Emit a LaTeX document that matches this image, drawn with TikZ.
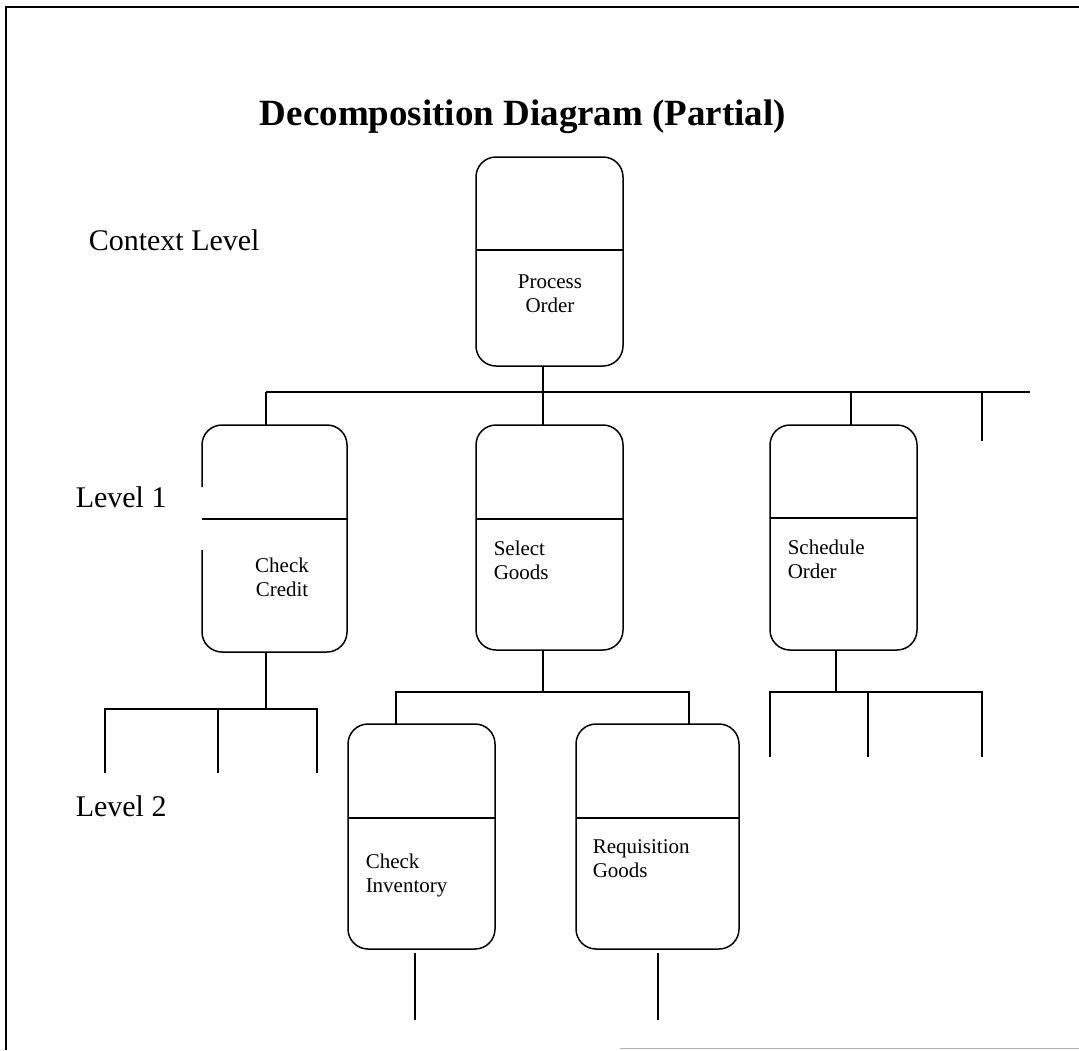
\documentclass[tikz,border=0pt]{standalone}
\usepackage{fontspec}
\setmainfont{Liberation Serif}
\begin{document}
\begin{tikzpicture}[x=1pt,y=-1pt,
  line width=1.5pt,
  procbox/.style={draw, rounded corners=20pt, inner sep=0pt, outer sep=0pt},
  boxtext/.style={inner sep=0pt, font=\fontsize{21}{24}\selectfont},
  leveltext/.style={inner sep=0pt, anchor=west, font=\fontsize{30}{33}\selectfont},
  wire/.style={draw, line width=1.5pt}]
\useasboundingbox (0,0) rectangle (1079,1050);

% page frame
\draw (6,1050) -- (6,7) -- (1079,7);
\draw[gray!60, line width=1pt] (620,1048) -- (1079,1048);

% title and level labels
\node[inner sep=0pt, font=\bfseries\fontsize{37}{40}\selectfont] (title) at (523,117) {Decomposition Diagram (Partial)};
\node[leveltext] (lctx) at (88,240) {Context Level};
\node[leveltext] (lone) at (75,497) {Level 1};
\node[leveltext] (ltwo) at (75,806) {Level 2};

% context level
\node[procbox, minimum width=147pt, minimum height=209pt] (po) at (549.5,261.5) {};
\draw (po.west |- 0,250) -- (po.east |- 0,250);
\node[boxtext, align=center] (potxt) at (550,294) {Process\\Order};

% level 1
\node[inner sep=0pt, outer sep=0pt, minimum width=145pt, minimum height=227pt] (cc) at (274.5,538.5) {};
\draw[rounded corners=20pt] (cc.west |- 0,487) -- (cc.north west) -- (cc.north east)
  -- (cc.south east) -- (cc.south west) -- (cc.west |- 0,550);
\draw (cc.west |- 0,519) -- (cc.east |- 0,519);
\node[boxtext, align=center] (cctxt) at (282,577) {Check\\Credit};

\node[procbox, minimum width=147pt, minimum height=225pt] (sg) at (549.5,537.5) {};
\draw (sg.west |- 0,519) -- (sg.east |- 0,519);
\node[boxtext, align=left, anchor=west] (sgtxt) at (493,560) {Select\\Goods};

\node[procbox, minimum width=147pt, minimum height=225pt] (so) at (843.5,537.5) {};
\draw (so.west |- 0,518) -- (so.east |- 0,518);
\node[boxtext, align=left, anchor=west] (sotxt) at (787,559) {Schedule\\Order};

% level 2
\node[procbox, minimum width=147pt, minimum height=225pt] (ci) at (421.5,836.5) {};
\draw (ci.west |- 0,818) -- (ci.east |- 0,818);
\node[boxtext, align=left, anchor=west] (citxt) at (365,875) {Check\\Inventory};

\node[procbox, minimum width=163pt, minimum height=225pt] (rg) at (657.5,836.5) {};
\draw (rg.west |- 0,818) -- (rg.east |- 0,818);
\node[boxtext, align=left, anchor=west] (rgtxt) at (592,859) {Requisition\\Goods};

% connector buses
\coordinate (busA) at (543,392);
\coordinate (busB) at (266,709);
\coordinate (busC) at (543,692);
\coordinate (busD) at (836,692);

% context level to level 1
\draw (po.south -| busA) -- (busA);
\draw (266,392) -- (1030,392);
\draw (266,392) -- (cc.north -| 266,0);
\draw (busA) -- (sg.north -| busA);
\draw (851,392) -- (so.north -| 851,0);
\coordinate (open1) at (982,441);
\draw (open1 |- busA) -- (open1);

% check credit children
\draw (cc.south -| busB) -- (busB);
\draw (105,773) -- (105,709) -- (317,709) -- (317,773);
\draw (218,709) -- (218,773);

% select goods children
\draw (sg.south -| busC) -- (busC);
\draw (ci.north -| 396,0) -- (396,692) -- (689,692) -- (rg.north -| 689,0);

% schedule order children
\draw (so.south -| busD) -- (busD);
\draw (770,757) -- (770,692) -- (982,692) -- (982,757);
\draw (868,692) -- (868,757);

% level 2 children
\coordinate (open2) at (415,1020);
\coordinate (open3) at (658,1020);
\draw (ci.south -| open2) ++(0,4) -- (open2);
\draw (rg.south -| open3) ++(0,4) -- (open3);
\end{tikzpicture}
\end{document}
